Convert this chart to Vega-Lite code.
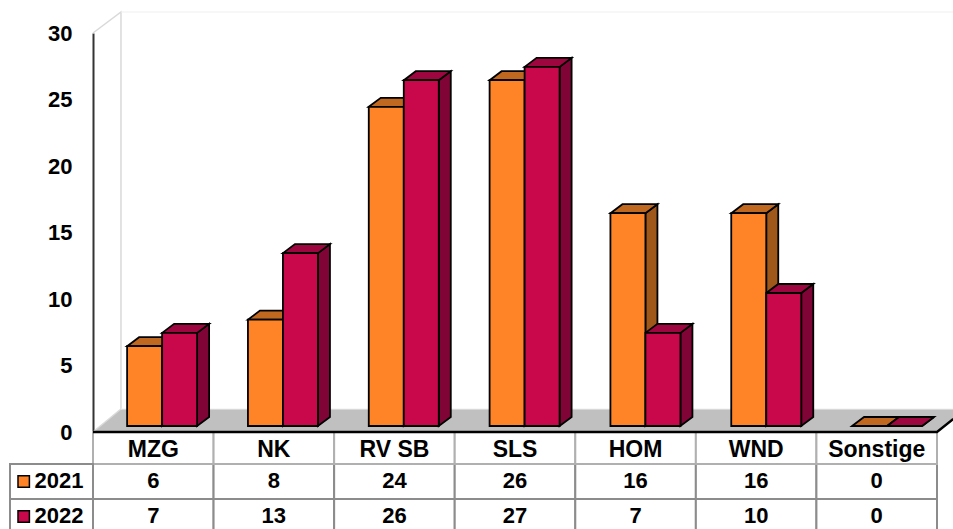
{
"$schema":"https://vega.github.io/schema/vega-lite/v6.json",
"width":953,"height":529,"padding":0,"autosize":"none","background":"white",
"config":{"view":{"stroke":null},"font":"Liberation Sans"},
"datasets":{
"bars":[
{"category":"MZG","year":"2021","value":6},{"category":"MZG","year":"2022","value":7},
{"category":"NK","year":"2021","value":8},{"category":"NK","year":"2022","value":13},
{"category":"RV SB","year":"2021","value":24},{"category":"RV SB","year":"2022","value":26},
{"category":"SLS","year":"2021","value":26},{"category":"SLS","year":"2022","value":27},
{"category":"HOM","year":"2021","value":16},{"category":"HOM","year":"2022","value":7},
{"category":"WND","year":"2021","value":16},{"category":"WND","year":"2022","value":10},
{"category":"Sonstige","year":"2021","value":0},{"category":"Sonstige","year":"2022","value":0}],
"categories":[{"category":"MZG"},{"category":"NK"},{"category":"RV SB"},{"category":"SLS"},{"category":"HOM"},{"category":"WND"},{"category":"Sonstige"}],
"years":[{"year":"2021"},{"year":"2022"}],
"one":[{"category":"MZG"}]
},
"resolve":{"scale":{"x":"independent","y":"independent","color":"independent"},"axis":{"x":"independent","y":"independent"}},
"layer":[
{"data":{"name":"bars"},
 "encoding":{
  "x":{"field":"category","type":"nominal","axis":null,"scale":{"domain":["MZG","NK","RV SB","SLS","HOM","WND","Sonstige"],"range":[93,937],"paddingInner":0,"paddingOuter":0}},
  "y":{"field":"year","type":"nominal","axis":null,"scale":{"domain":["2021","2022"],"range":[464,534],"paddingInner":0,"paddingOuter":0}}},
 "layer":[
  {"mark":{"type":"rect","fill":"white","stroke":"#8c8c8c","strokeWidth":2}},
  {"mark":{"type":"text","font":"Liberation Sans","fontWeight":"bold","fontSize":22,"fill":"black","baseline":"middle","dy":-1},"encoding":{"text":{"field":"value","type":"quantitative"}}}
 ]},
{"data":{"name":"categories"},
 "encoding":{
  "x":{"field":"category","type":"nominal","axis":null,"scale":{"domain":["MZG","NK","RV SB","SLS","HOM","WND","Sonstige"],"range":[93,937],"paddingInner":0,"paddingOuter":0}},
  "y":{"datum":"Kategorie","type":"nominal","axis":null,"scale":{"domain":["Kategorie"],"range":[432,464],"paddingInner":0,"paddingOuter":0}}},
 "layer":[
  {"mark":{"type":"rect","fill":"white","stroke":"#b0b0b0","strokeWidth":2}},
  {"mark":{"type":"text","font":"Liberation Sans","fontWeight":"bold","fontSize":23,"fill":"black","baseline":"middle","dy":2},"encoding":{"text":{"field":"category","type":"nominal"}}}
 ]},
{"data":{"name":"years"},
 "encoding":{
  "x":{"datum":"Jahr","type":"nominal","axis":null,"scale":{"domain":["Jahr"],"range":[10,93],"paddingInner":0,"paddingOuter":0}},
  "y":{"field":"year","type":"nominal","axis":null,"scale":{"domain":["2021","2022"],"range":[464,534],"paddingInner":0,"paddingOuter":0}}},
 "layer":[
  {"mark":{"type":"rect","fill":"white","stroke":"#8c8c8c","strokeWidth":2}},
  {"mark":{"type":"text","font":"Liberation Sans","fontWeight":"bold","fontSize":22,"fill":"black","baseline":"middle","dx":7.5,"dy":-1},"encoding":{"text":{"field":"year","type":"nominal"}}},
  {"mark":{"type":"point","shape":"square","filled":true,"size":130,"opacity":1,"stroke":"black","strokeWidth":1.5,"xOffset":-27.8},
   "encoding":{"color":{"field":"year","type":"nominal","legend":null,"scale":{"domain":["2021","2022"],"range":["#FF8427","#C8084A"]}}}}
 ],
 "resolve":{"scale":{"color":"independent"}}},
{"data":{"name":"one"},
 "encoding":{
  "x":{"field":"category","type":"nominal","axis":null,"scale":{"domain":["MZG","NK","RV SB","SLS","HOM","WND","Sonstige"],"range":[93,937],"paddingInner":0,"paddingOuter":0}},
  "y":{"datum":0,"type":"quantitative","scale":{"domain":[0,30],"range":[432,33],"nice":false},
   "axis":{"orient":"left","offset":-93,"values":[0,5,10,15,20,25,30],"title":null,"grid":false,"ticks":false,"domainColor":"#333333","domainWidth":2,"labelFont":"Liberation Sans","labelFontWeight":"bold","labelFontSize":22,"labelColor":"black","labelPadding":21,"labelOverlap":false,"labelBound":false,"labelFlush":false}}},
 "layer":[
  {"mark":{"type":"point","shape":"M-60.3 0L-32.3 -23L811.7 -23L783.7 0Z","size":4,"filled":true,"fill":"#C0C0C0","opacity":1,"strokeWidth":0}},
  {"mark":{"type":"point","shape":"M-60.3 0L-32.3 -23L-32.3 -420L-60.3 -399","size":4,"filled":false,"stroke":"#d9d9d9","strokeWidth":1.5,"opacity":1}},
  {"mark":{"type":"point","shape":"M-32.3 -23L811.7 -23M-32.3 -420L811.7 -420","size":4,"filled":false,"stroke":"#efefef","strokeWidth":1,"opacity":1}},
  {"mark":{"type":"point","shape":"M-60.3 0L783.7 0L800 -13","size":4,"filled":false,"stroke":"black","strokeWidth":2.4,"opacity":1}}
 ]},
{"data":{"name":"bars"},
 "encoding":{
  "x":{"field":"category","type":"nominal","axis":null,"scale":{"domain":["MZG","NK","RV SB","SLS","HOM","WND","Sonstige"],"range":[101.7,947.5],"paddingInner":0,"paddingOuter":0}},
  "xOffset":{"field":"year","type":"nominal","scale":{"domain":["2021","2022"],"paddingInner":0,"paddingOuter":0.726}},
  "y":{"field":"value","type":"quantitative","axis":null,"scale":{"domain":[0,30],"range":[426,27],"nice":false}}},
 "resolve":{"scale":{"color":"independent"}},
 "layer":[
  {"mark":{"type":"point","size":4,"filled":true,"opacity":1,"stroke":"black","strokeWidth":1.8},
   "encoding":{
    "shape":{"field":"value","type":"nominal","legend":null,"scale":{"domain":[0,6,7,8,10,13,16,24,26,27],"range":[
     "M17.5 0L29.5 -9L29.5 -9L17.5 0Z",
     "M17.5 0L29.5 -9L29.5 70.8L17.5 79.8Z",
     "M17.5 0L29.5 -9L29.5 84.1L17.5 93.1Z",
     "M17.5 0L29.5 -9L29.5 97.4L17.5 106.4Z",
     "M17.5 0L29.5 -9L29.5 124L17.5 133Z",
     "M17.5 0L29.5 -9L29.5 163.9L17.5 172.9Z",
     "M17.5 0L29.5 -9L29.5 203.8L17.5 212.8Z",
     "M17.5 0L29.5 -9L29.5 310.2L17.5 319.2Z",
     "M17.5 0L29.5 -9L29.5 336.8L17.5 345.8Z",
     "M17.5 0L29.5 -9L29.5 350.1L17.5 359.1Z"]}},
    "color":{"field":"year","type":"nominal","legend":null,"scale":{"domain":["2021","2022"],"range":["#A0581A","#800536"]}}}},
  {"mark":{"type":"point","shape":"M-17.5 0L-5.5 -9L29.5 -9L17.5 0Z","size":4,"filled":true,"opacity":1,"stroke":"black","strokeWidth":1.8},
   "encoding":{"color":{"field":"year","type":"nominal","legend":null,"scale":{"domain":["2021","2022"],"range":["#C0681F","#9E063F"]}}}},
  {"mark":{"type":"bar","stroke":"black","strokeWidth":1.8,"opacity":1},
   "encoding":{"color":{"field":"year","type":"nominal","legend":null,"scale":{"domain":["2021","2022"],"range":["#FF8427","#C8084A"]}}}}
 ]}
]}
